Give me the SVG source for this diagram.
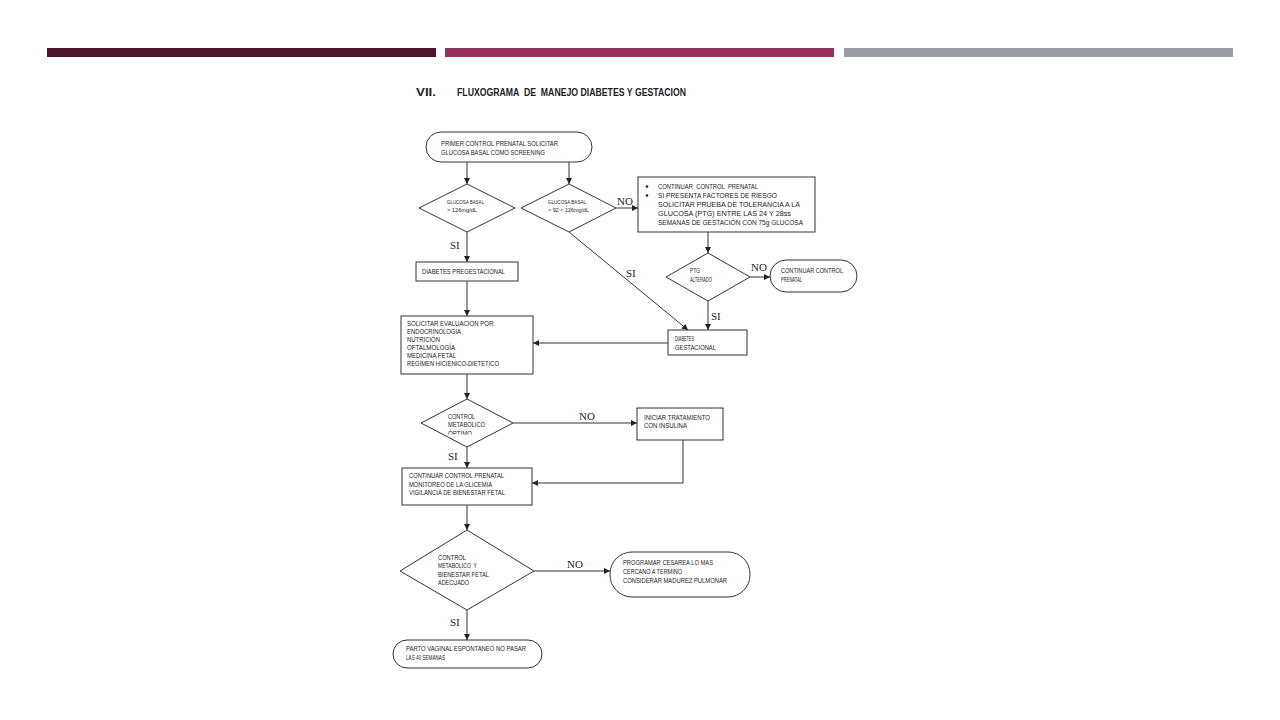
<svg xmlns="http://www.w3.org/2000/svg" width="1280" height="720" viewBox="0 0 1280 720">
<style>
.shape{fill:#fff;stroke:#333;stroke-width:1}
.ln{fill:none;stroke:#333;stroke-width:1}
.t{font-family:"Liberation Sans",Arial,sans-serif;font-size:8px;fill:#222;white-space:pre}
.s{font-family:"Liberation Sans",Arial,sans-serif;font-size:7px;fill:#222;white-space:pre}
.xs{font-family:"Liberation Sans",Arial,sans-serif;font-size:6px;fill:#222}
.lbl{font-family:"Liberation Serif","Times New Roman",serif;font-size:11px;fill:#222}
.ttl{font-family:"Liberation Sans",Arial,sans-serif;font-size:10.5px;font-weight:bold;fill:#222;white-space:pre}
</style>
<defs>
<marker id="ah" viewBox="0 0 10 10" refX="10" refY="5" markerWidth="6" markerHeight="6" markerUnits="userSpaceOnUse" orient="auto">
<path d="M0,0 L10,5 L0,10 z" fill="#222"/>
</marker>
<clipPath id="clipD3"><rect x="420" y="399" width="100" height="35.5"/></clipPath>
</defs>
<rect width="1280" height="720" fill="#fff"/>
<g id="bars">
<rect x="47" y="48" width="389" height="9" fill="#4d1431"/>
<rect x="445" y="48" width="389" height="9" fill="#93325f"/>
<rect x="844" y="48" width="389" height="9" fill="#969ea5"/>
</g>
<g id="title">
<text class="ttl" x="416" y="96" textLength="20" lengthAdjust="spacingAndGlyphs">VII.</text>
<text class="ttl" x="457" y="96" textLength="229" lengthAdjust="spacingAndGlyphs" xml:space="preserve">FLUXOGRAMA  DE  MANEJO DIABETES Y GESTACION</text>
</g>
<g id="connectors">
<line class="ln" x1="467" y1="162" x2="467" y2="184" marker-end="url(#ah)"/>
<line class="ln" x1="569" y1="162" x2="569" y2="184" marker-end="url(#ah)"/>
<line class="ln" x1="616" y1="208" x2="638" y2="208" marker-end="url(#ah)"/>
<line class="ln" x1="569" y1="232" x2="688" y2="330" marker-end="url(#ah)"/>
<line class="ln" x1="708" y1="232" x2="708" y2="253" marker-end="url(#ah)"/>
<line class="ln" x1="750" y1="277" x2="770" y2="277" marker-end="url(#ah)"/>
<line class="ln" x1="708" y1="301" x2="708" y2="330" marker-end="url(#ah)"/>
<line class="ln" x1="467" y1="232" x2="467" y2="262" marker-end="url(#ah)"/>
<line class="ln" x1="467" y1="281" x2="467" y2="316" marker-end="url(#ah)"/>
<line class="ln" x1="668" y1="343" x2="533" y2="343" marker-end="url(#ah)"/>
<line class="ln" x1="467" y1="374" x2="467" y2="399" marker-end="url(#ah)"/>
<line class="ln" x1="513" y1="423" x2="637" y2="423" marker-end="url(#ah)"/>
<line class="ln" x1="467" y1="447" x2="467" y2="468" marker-end="url(#ah)"/>
<polyline class="ln" points="683,440 683,483 532,483" marker-end="url(#ah)"/>
<line class="ln" x1="467" y1="505" x2="467" y2="530" marker-end="url(#ah)"/>
<line class="ln" x1="534" y1="571" x2="610" y2="571" marker-end="url(#ah)"/>
<line class="ln" x1="467" y1="610" x2="467" y2="640" marker-end="url(#ah)"/>
<text class="lbl" x="617" y="205">NO</text>
<text class="lbl" x="450" y="249">SI</text>
<text class="lbl" x="626" y="277">SI</text>
<text class="lbl" x="751" y="271">NO</text>
<text class="lbl" x="711" y="320">SI</text>
<text class="lbl" x="579" y="420">NO</text>
<text class="lbl" x="448" y="460">SI</text>
<text class="lbl" x="567" y="568">NO</text>
<text class="lbl" x="450" y="626">SI</text>
</g>
<g id="start">
<rect class="shape" x="426" y="132" width="166" height="30" rx="15"/>
<text class="t" x="441" y="146" textLength="117" lengthAdjust="spacingAndGlyphs">PRIMER CONTROL PRENATAL SOLICITAR</text>
<text class="t" x="441" y="154.5" textLength="104" lengthAdjust="spacingAndGlyphs">GLUCOSA BASAL COMO SCREENING</text>
</g>
<g id="d1">
<polygon class="shape" points="467,184 515,208 467,232 419,208"/>
<text class="xs" x="447" y="204" textLength="37" lengthAdjust="spacingAndGlyphs">GLUCOSA BASAL</text>
<text class="xs" x="447" y="212" textLength="30" lengthAdjust="spacingAndGlyphs">&gt; 126mg/dL</text>
</g>
<g id="d2">
<polygon class="shape" points="569,184 616,208 569,232 521,208"/>
<text class="xs" x="548" y="204" textLength="38" lengthAdjust="spacingAndGlyphs">GLUCOSA BASAL</text>
<text class="xs" x="548" y="212" textLength="41" lengthAdjust="spacingAndGlyphs">&gt; 92 &lt; 126mg/dL</text>
</g>
<g id="boxTR">
<rect class="shape" x="638" y="177" width="177" height="55"/>
<circle cx="647" cy="186.5" r="1.3" fill="#222"/>
<circle cx="647" cy="195.5" r="1.3" fill="#222"/>
<text class="t" x="658" y="189" textLength="100" lengthAdjust="spacingAndGlyphs" xml:space="preserve">CONTINUAR  CONTROL  PRENATAL</text>
<text class="t" x="658" y="198" textLength="119" lengthAdjust="spacingAndGlyphs">SI PRESENTA FACTORES DE RIESGO</text>
<text class="t" x="658" y="207" textLength="142" lengthAdjust="spacingAndGlyphs">SOLICITAR PRUEBA DE TOLERANCIA A LA</text>
<text class="t" x="658" y="216" textLength="133" lengthAdjust="spacingAndGlyphs">GLUCOSA (PTG) ENTRE LAS 24 Y 28ss</text>
<text class="t" x="658" y="225" textLength="145" lengthAdjust="spacingAndGlyphs">SEMANAS DE GESTACIÓN CON 75g GLUCOSA</text>
</g>
<g id="ptg">
<polygon class="shape" points="708,253 750,277 708,301 666,277"/>
<text class="s" x="690" y="273" textLength="10" lengthAdjust="spacingAndGlyphs">PTG</text>
<text class="s" x="690" y="282" textLength="22" lengthAdjust="spacingAndGlyphs">ALTERADO</text>
</g>
<g id="contTerm">
<rect class="shape" x="770" y="260" width="87" height="32" rx="16"/>
<text class="s" x="781" y="273" textLength="62" lengthAdjust="spacingAndGlyphs">CONTINUAR CONTROL</text>
<text class="s" x="781" y="282" textLength="21" lengthAdjust="spacingAndGlyphs">PRENATAL</text>
</g>
<g id="dg">
<rect class="shape" x="668" y="330" width="79" height="25"/>
<text class="s" x="675" y="341" textLength="19" lengthAdjust="spacingAndGlyphs">DIABETES</text>
<text class="s" x="675" y="350" textLength="41" lengthAdjust="spacingAndGlyphs">GESTACIONAL</text>
</g>
<g id="pregest">
<rect class="shape" x="416" y="262" width="102" height="19"/>
<text class="t" x="422" y="274" textLength="83" lengthAdjust="spacingAndGlyphs">DIABETES PREGESTACIONAL</text>
</g>
<g id="solicitar">
<rect class="shape" x="401" y="316" width="132" height="58"/>
<text class="t" x="407" y="326" textLength="88" lengthAdjust="spacingAndGlyphs">SOLICITAR EVALUACION POR:</text>
<text class="t" x="407" y="334" textLength="54" lengthAdjust="spacingAndGlyphs">ENDOCRINOLOGIA</text>
<text class="t" x="407" y="342" textLength="33" lengthAdjust="spacingAndGlyphs">NUTRICIÓN</text>
<text class="t" x="407" y="350" textLength="48" lengthAdjust="spacingAndGlyphs">OFTALMOLOGÍA</text>
<text class="t" x="407" y="358" textLength="49" lengthAdjust="spacingAndGlyphs">MEDICINA FETAL</text>
<text class="t" x="407" y="366" textLength="92" lengthAdjust="spacingAndGlyphs">REGIMEN HICIENICO-DIETETICO</text>
</g>
<g id="d3">
<polygon class="shape" points="467,399 513,423 467,447 421,423"/>
<text class="s" x="448" y="419" textLength="27" lengthAdjust="spacingAndGlyphs">CONTROL</text>
<text class="s" x="448" y="427" textLength="37" lengthAdjust="spacingAndGlyphs">METABOLICO</text>
<text class="s" x="448" y="436" textLength="24" lengthAdjust="spacingAndGlyphs" clip-path="url(#clipD3)">ÓPTIMO</text>
</g>
<g id="insulina">
<rect class="shape" x="637" y="408" width="86" height="32"/>
<text class="s" x="644" y="420" textLength="66" lengthAdjust="spacingAndGlyphs">INICIAR TRATAMIENTO</text>
<text class="s" x="644" y="428" textLength="43" lengthAdjust="spacingAndGlyphs">CON INSULINA</text>
</g>
<g id="continuar">
<rect class="shape" x="402" y="468" width="130" height="37"/>
<text class="t" x="409" y="478" textLength="95" lengthAdjust="spacingAndGlyphs">CONTINUAR CONTROL PRENATAL</text>
<text class="t" x="409" y="486.5" textLength="83" lengthAdjust="spacingAndGlyphs">MONITOREO DE LA GLICEMIA</text>
<text class="t" x="409" y="495" textLength="96" lengthAdjust="spacingAndGlyphs">VIGILANCIA DE BIENESTAR FETAL</text>
</g>
<g id="d4">
<polygon class="shape" points="467,530 534,571 467,610 400,571"/>
<text class="s" x="438" y="560" textLength="28" lengthAdjust="spacingAndGlyphs">CONTROL</text>
<text class="s" x="438" y="568" textLength="39" lengthAdjust="spacingAndGlyphs" xml:space="preserve">METABOLICO  Y</text>
<text class="s" x="438" y="576.5" textLength="51" lengthAdjust="spacingAndGlyphs">BIENESTAR FETAL</text>
<text class="s" x="438" y="585" textLength="31" lengthAdjust="spacingAndGlyphs">ADECUADO</text>
</g>
<g id="programar">
<rect class="shape" x="610" y="552" width="140" height="45" rx="22"/>
<text class="t" x="623" y="565" textLength="90" lengthAdjust="spacingAndGlyphs">PROGRAMAR CESAREA LO MAS</text>
<text class="t" x="623" y="574" textLength="59" lengthAdjust="spacingAndGlyphs">CERCANO A TERMINO</text>
<text class="t" x="623" y="583" textLength="104" lengthAdjust="spacingAndGlyphs">CONSIDERAR MADUREZ PULMONAR</text>
</g>
<g id="parto">
<rect class="shape" x="393" y="640" width="149" height="28" rx="14"/>
<text class="t" x="406" y="651" textLength="120" lengthAdjust="spacingAndGlyphs">PARTO VAGINAL ESPONTANEO NO PASAR</text>
<text class="t" x="406" y="659.5" textLength="39" lengthAdjust="spacingAndGlyphs">LAS 40 SEMANAS</text>
</g>
</svg>
